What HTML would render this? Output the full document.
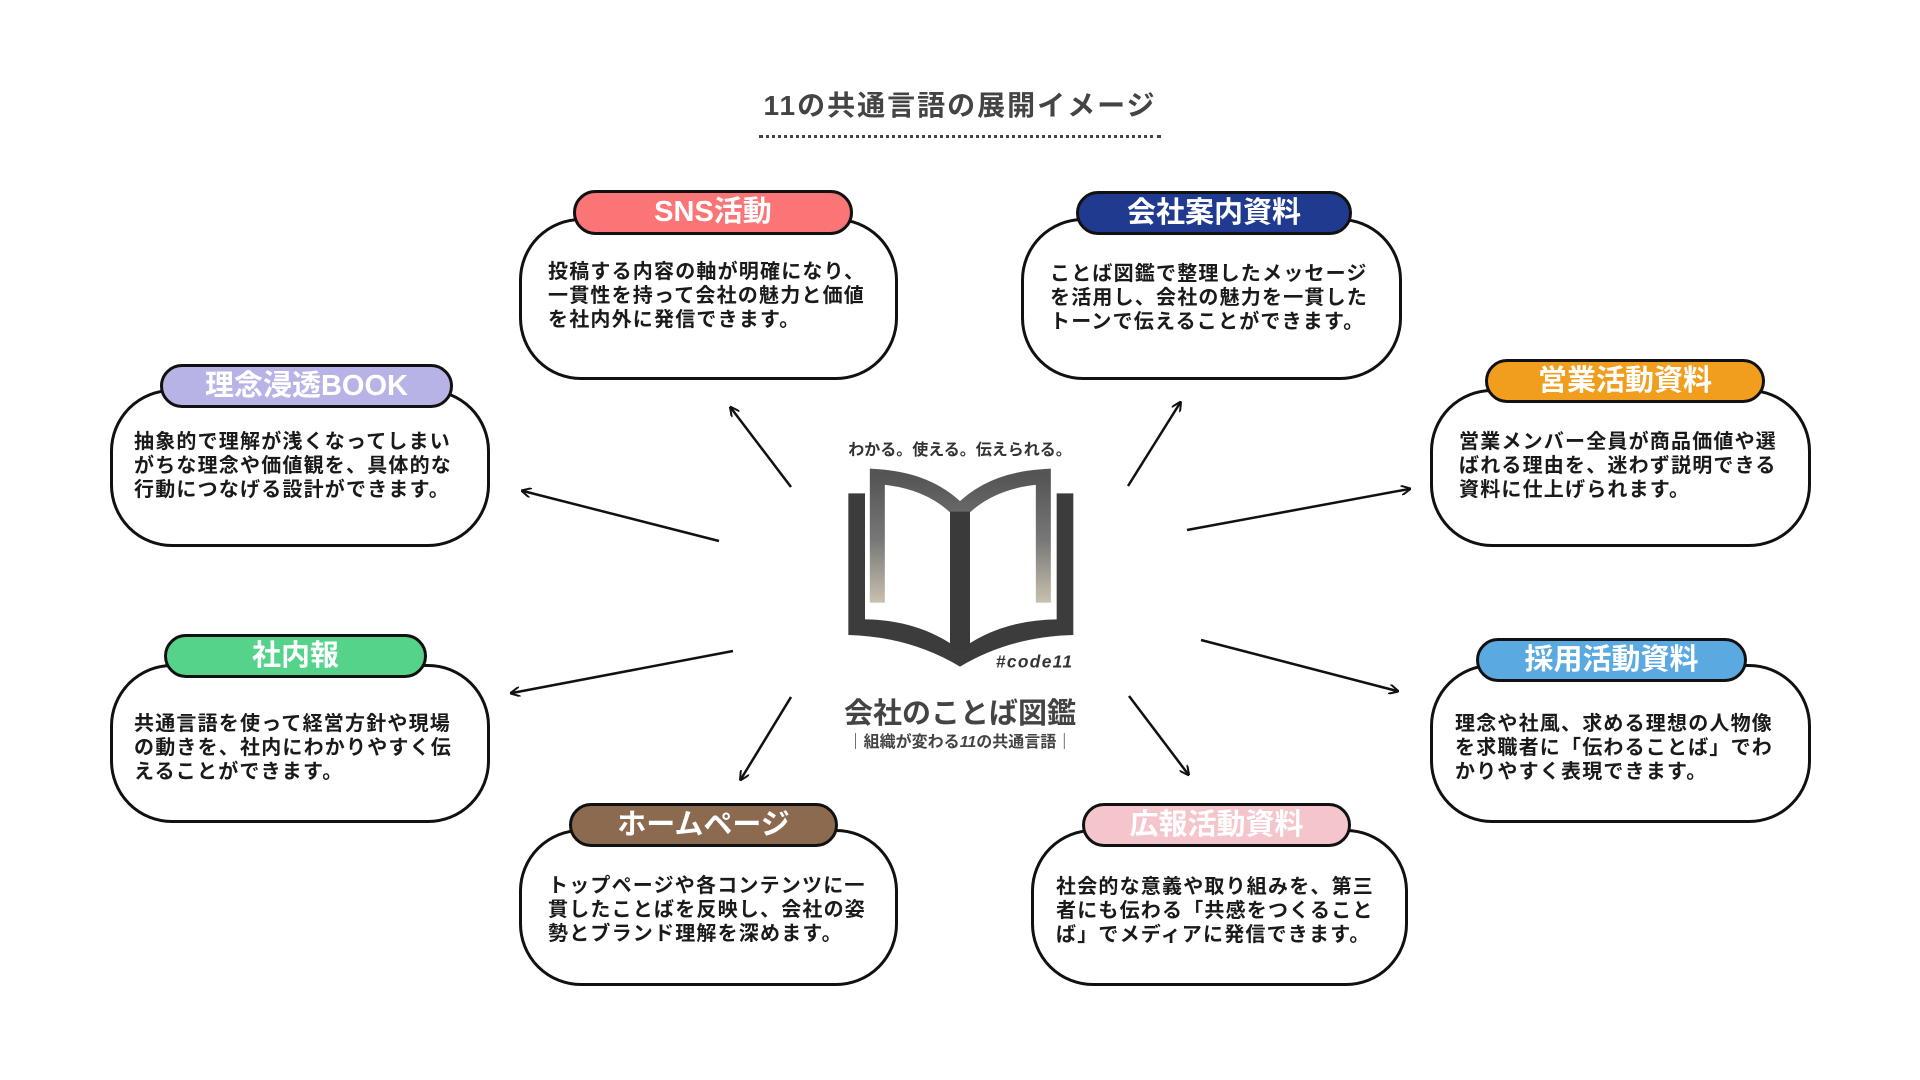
<!DOCTYPE html>
<html><head><meta charset="utf-8"><style>
body{margin:0;width:1920px;height:1080px;background:#fff;position:relative;overflow:hidden;font-family:"Liberation Sans","Noto Sans CJK JP",sans-serif;color:#222}
.b{position:absolute;border:3px solid #111;border-radius:62px;background:#fff;box-sizing:border-box}
.t{position:absolute;font-weight:bold;font-size:20px;line-height:24px;letter-spacing:1.2px;white-space:nowrap;color:#1a1a1a}
.p{position:absolute;border:3px solid #111;border-radius:24px;box-sizing:border-box;color:#fff;font-weight:bold;font-size:29px;text-align:center;line-height:38px}
</style></head><body>
<div style="position:absolute;left:700px;top:84px;width:520px;text-align:center;font-size:28px;font-weight:bold;color:#444;letter-spacing:2px">11の共通言語の展開イメージ</div>
<div style="position:absolute;left:759px;top:135px;width:402px;border-top:3px dotted #444"></div>

<div class="b" style="left:519px;top:218px;width:379px;height:162px"></div>
<div class="p" style="left:573px;top:190px;width:280px;height:45px;background:#fb7577">SNS活動</div>
<div class="t" style="left:548px;top:260px">投稿する内容の軸が明確になり、<br>一貫性を持って会社の魅力と価値<br>を社内外に発信できます。</div>

<div class="b" style="left:110px;top:389px;width:380px;height:158px"></div>
<div class="p" style="left:160px;top:364px;width:293px;height:44px;background:#b8b3e7">理念浸透BOOK</div>
<div class="t" style="left:134px;top:430px">抽象的で理解が浅くなってしまい<br>がちな理念や価値観を、具体的な<br>行動につなげる設計ができます。</div>

<div class="b" style="left:110px;top:664px;width:380px;height:159px"></div>
<div class="p" style="left:164px;top:634px;width:263px;height:44px;background:#55d38b">社内報</div>
<div class="t" style="left:134px;top:712px">共通言語を使って経営方針や現場<br>の動きを、社内にわかりやすく伝<br>えることができます。</div>

<div class="b" style="left:519px;top:829px;width:379px;height:157px"></div>
<div class="p" style="left:569px;top:803px;width:269px;height:44px;background:#8c6a4f">ホームページ</div>
<div class="t" style="left:548px;top:874px">トップページや各コンテンツに一<br>貫したことばを反映し、会社の姿<br>勢とブランド理解を深めます。</div>

<div class="b" style="left:1021px;top:218px;width:381px;height:162px"></div>
<div class="p" style="left:1076px;top:191px;width:276px;height:44px;background:#1f3a8e">会社案内資料</div>
<div class="t" style="left:1050px;top:262px">ことば図鑑で整理したメッセージ<br>を活用し、会社の魅力を一貫した<br>トーンで伝えることができます。</div>

<div class="b" style="left:1430px;top:389px;width:381px;height:158px"></div>
<div class="p" style="left:1485px;top:359px;width:280px;height:44px;background:#f19e1e">営業活動資料</div>
<div class="t" style="left:1459px;top:430px">営業メンバー全員が商品価値や選<br>ばれる理由を、迷わず説明できる<br>資料に仕上げられます。</div>

<div class="b" style="left:1430px;top:664px;width:381px;height:159px"></div>
<div class="p" style="left:1476px;top:638px;width:271px;height:44px;background:#5aa9e1">採用活動資料</div>
<div class="t" style="left:1455px;top:712px">理念や社風、求める理想の人物像<br>を求職者に「伝わることば」でわ<br>かりやすく表現できます。</div>

<div class="b" style="left:1031px;top:829px;width:377px;height:157px"></div>
<div class="p" style="left:1082px;top:803px;width:269px;height:44px;background:#f4c5cb">広報活動資料</div>
<div class="t" style="left:1056px;top:875px">社会的な意義や取り組みを、第三<br>者にも伝わる「共感をつくること<br>ば」でメディアに発信できます。</div>

<svg style="position:absolute;left:0;top:0" width="1920" height="1080">
<defs><marker id="a" markerWidth="10" markerHeight="10" refX="8" refY="5" orient="auto" markerUnits="userSpaceOnUse"><path d="M0,0 L10,5 L0,10" fill="none" stroke="#111" stroke-width="2"/></marker></defs>
<g stroke="#111" stroke-width="2.5" marker-end="url(#a)">
<line x1="791" y1="487" x2="731" y2="408"/>
<line x1="719" y1="541" x2="523" y2="491"/>
<line x1="733" y1="651" x2="512" y2="693"/>
<line x1="791" y1="697" x2="741" y2="779"/>
<line x1="1128" y1="486" x2="1180" y2="403"/>
<line x1="1187" y1="530" x2="1409" y2="489"/>
<line x1="1201" y1="640" x2="1397" y2="691"/>
<line x1="1129" y1="696" x2="1188" y2="774"/>
</g></svg>

<div style="position:absolute;left:800px;top:436px;width:320px;text-align:center;font-size:16px;font-weight:bold;color:#333">わかる。使える。伝えられる。</div>
<svg style="position:absolute;left:780px;top:420px" width="360" height="340" viewBox="0 0 1080 1020">
<defs><linearGradient id="g" x1="0" y1="0" x2="0" y2="1"><stop offset="0" stop-color="#555"/><stop offset="0.5" stop-color="#777"/><stop offset="1" stop-color="#c8c0b0"/></linearGradient></defs>
<path d="M205,220 H255 V598 Q420,600 540,690 Q660,600 830,598 V220 H880 V645 Q690,650 540,740 Q390,650 205,645 Z" fill="#3c3c3c"/>
<path d="M292,548 V170 Q450,180 540,275 Q630,180 790,170 V548" fill="none" stroke="url(#g)" stroke-width="45"/>
<path d="M540,275 V690" stroke="#3a3a3a" stroke-width="60"/>
<text x="880" y="742" text-anchor="end" font-family="Liberation Sans,sans-serif" font-style="italic" font-weight="bold" font-size="52" fill="#333" letter-spacing="4">#code11</text>
</svg>
<div style="position:absolute;left:800px;top:690px;width:320px;text-align:center;font-size:29px;font-weight:bold;color:#444">会社のことば図鑑</div>
<div style="position:absolute;left:800px;top:728px;width:320px;text-align:center;font-size:16px;font-weight:bold;color:#444">｜組織が変わる<i>11</i>の共通言語｜</div>
</body></html>
